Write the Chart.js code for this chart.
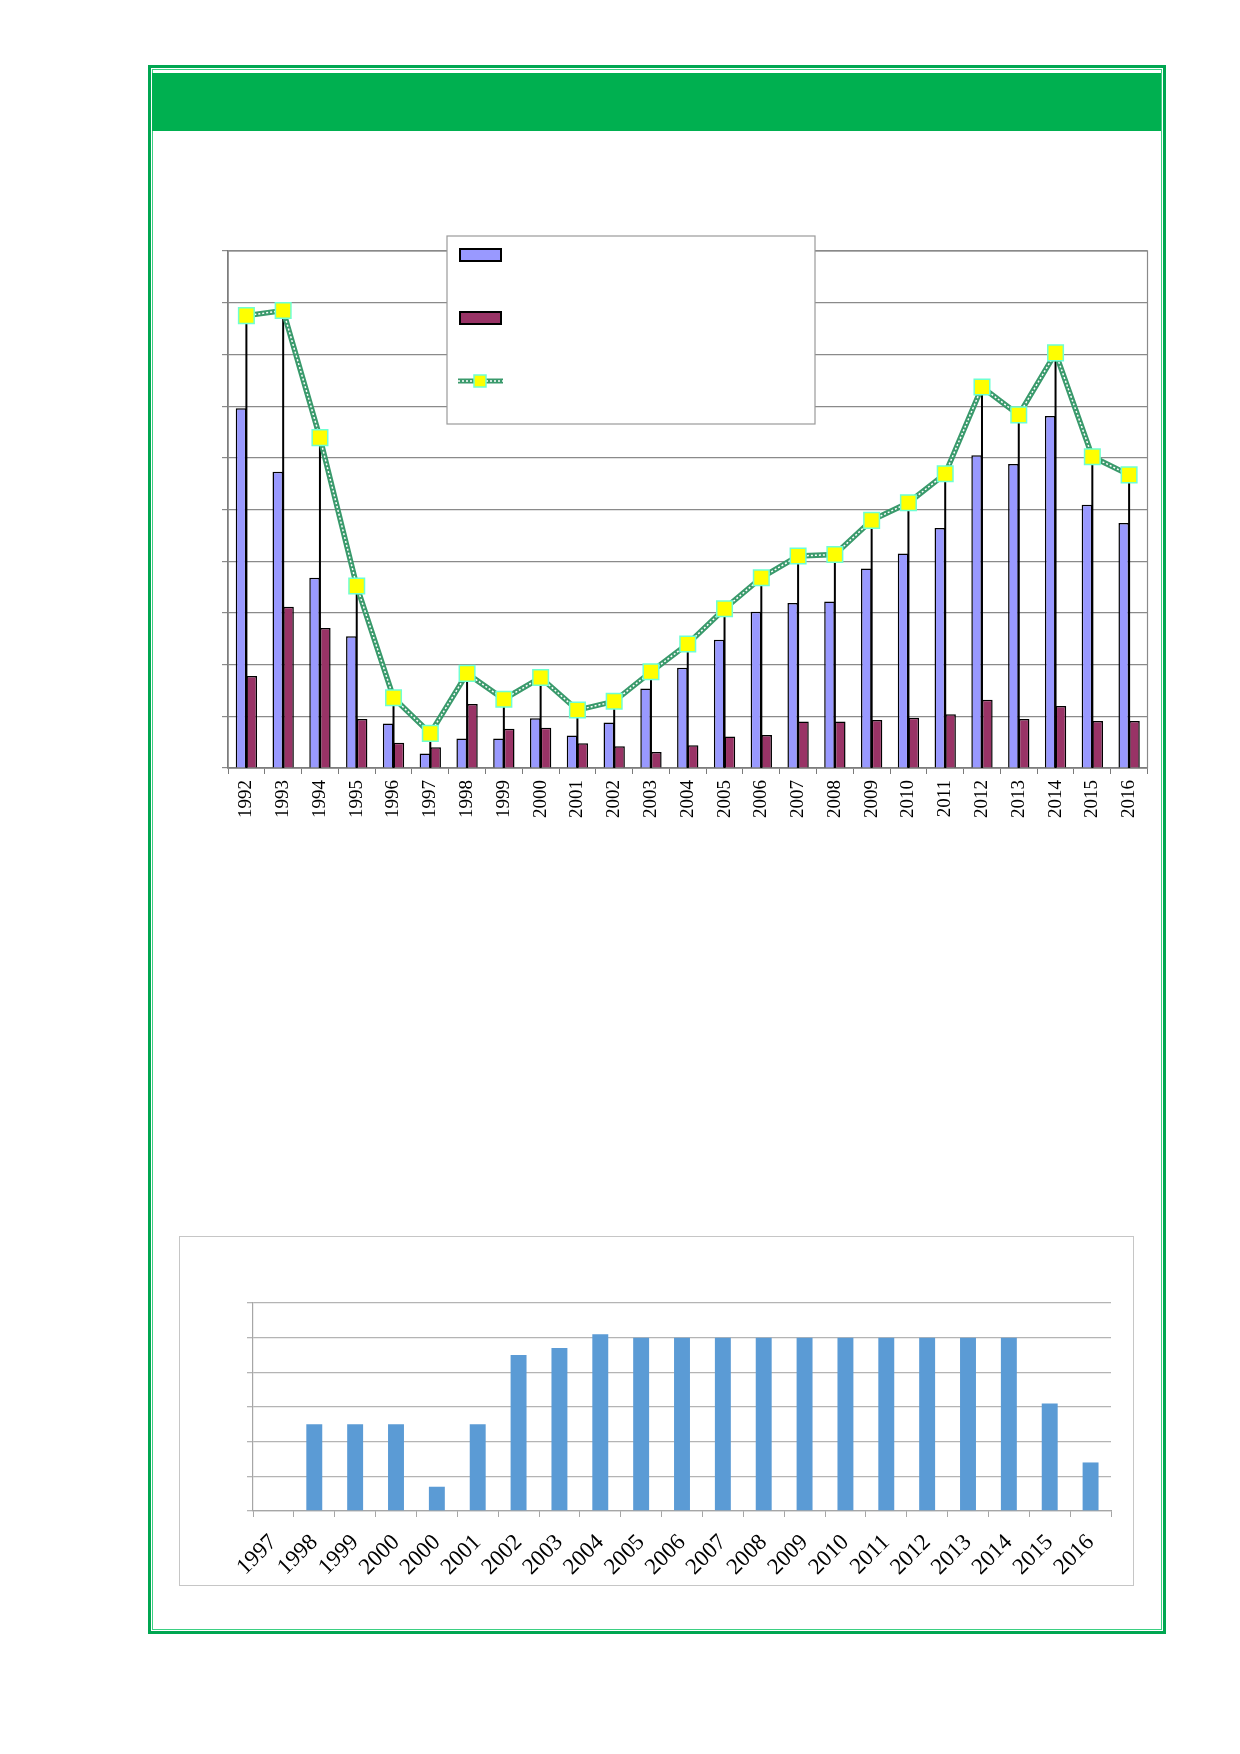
<!DOCTYPE html>
<html>
<head>
<meta charset="utf-8">
<script src="https://cdn.jsdelivr.net/npm/chart.js@4.4.0/dist/chart.umd.min.js"></script>
<style>
  body { margin: 0; width: 1240px; height: 1754px; background: #fff; position: relative; overflow: hidden; }
  #frame { position: absolute; left: 148px; top: 65px; width: 1012px; height: 1563px; border: 3px solid #00a651; }
  #frame-inner { position: absolute; left: 1px; top: 1px; right: 1px; bottom: 1px; border: 1px solid #3dd083; }
  #band { position: absolute; left: 152px; top: 73px; width: 1009px; height: 58px; background: #00b050; }
  #topChart { position: absolute; left: 190px; top: 200px; width: 970px; height: 650px; }
  #bottomBox { position: absolute; left: 179px; top: 1236px; width: 955px; height: 350px; box-sizing: border-box; border: 1px solid #c6c6c6; }
  #bottomChart { position: absolute; left: 0; top: 0; width: 953px; height: 348px; }
</style>
</head>
<body>
<div id="frame"><div id="frame-inner"></div></div>
<div id="band"></div>
<div id="topChart"><canvas id="myChart"></canvas></div>
<div id="bottomBox"><div id="bottomChart"><canvas id="myChart2"></canvas></div></div>

<script>
const years = [
  "1992", "1993", "1994", "1995", "1996", "1997", "1998", "1999", "2000",
  "2001", "2002", "2003", "2004", "2005", "2006", "2007", "2008", "2009",
  "2010", "2011", "2012", "2013", "2014", "2015", "2016",
];

const blueValues = [
  6.96, 5.73, 3.68, 2.55, 0.86, 0.28, 0.57, 0.57, 0.96, 0.63, 0.88, 1.54, 1.94,
  2.48, 3.02, 3.19, 3.22, 3.86, 4.15, 4.64, 6.05, 5.88, 6.81, 5.09, 4.74,
];

const redValues = [
  1.78, 3.12, 2.71, 0.95, 0.49, 0.4, 1.24, 0.76, 0.78, 0.48, 0.42, 0.31, 0.44,
  0.61, 0.64, 0.9, 0.9, 0.93, 0.97, 1.04, 1.32, 0.95, 1.2, 0.91, 0.91,
];

const totalValues = [
  8.75, 8.85, 6.39, 3.52, 1.36, 0.67, 1.83, 1.33, 1.75, 1.12, 1.29, 1.86, 2.4,
  3.08, 3.68, 4.1, 4.13, 4.79, 5.13, 5.69, 7.37, 6.83, 8.03, 6.02, 5.67,
];

const years2 = [
  "1997", "1998", "1999", "2000", "2000", "2001", "2002", "2003", "2004",
  "2005", "2006", "2007", "2008", "2009", "2010", "2011", "2012", "2013",
  "2014", "2015", "2016",
];

const values2 = [
  0, 2.5, 2.5, 2.5, 0.7, 2.5, 4.5, 4.7, 5.1, 5, 5, 5, 5, 5, 5, 5, 5, 5, 5,
  3.1, 1.4,
];

const BLUE = "#9999ff";
const RED = "#993366";
const LINE_GREEN = "#3a9a6c";
const MARK_YELLOW = "#ffff00";
const MARK_EDGE = "#6effd2";

// black drop lines from each point down to the axis
const dropLines = {
  id: "dropLines",
  beforeDatasetsDraw(chart) {
    const { ctx, chartArea, scales: { y } } = chart;
    ctx.save();
    // plot area border (top and right)
    ctx.strokeStyle = "#8a8a8a";
    ctx.lineWidth = 1.2;
    ctx.strokeRect(chartArea.left, chartArea.top, chartArea.width, chartArea.height);
    ctx.strokeStyle = "#000";
    ctx.lineWidth = 2;
    chart.getDatasetMeta(4).data.forEach((pt) => {
      ctx.beginPath();
      ctx.moveTo(pt.x, pt.y);
      ctx.lineTo(pt.x, y.getPixelForValue(0));
      ctx.stroke();
    });
    ctx.restore();
  },
};

// legend box (labels are blank in the original)
const legendBox = {
  id: "legendBox",
  afterDraw(chart) {
    const { ctx } = chart;
    ctx.save();
    ctx.fillStyle = "#fff";
    ctx.fillRect(257, 36, 368, 188);
    ctx.strokeStyle = "#9a9a9a";
    ctx.lineWidth = 1.2;
    ctx.strokeRect(257, 36, 368, 188);

    ctx.lineWidth = 2;
    ctx.strokeStyle = "#000";
    ctx.fillStyle = BLUE;
    ctx.fillRect(270, 49, 41, 12);
    ctx.strokeRect(270, 49, 41, 12);
    ctx.fillStyle = RED;
    ctx.fillRect(270, 112, 41, 12);
    ctx.strokeRect(270, 112, 41, 12);

    ctx.strokeStyle = LINE_GREEN;
    ctx.lineWidth = 5;
    ctx.beginPath();
    ctx.moveTo(268, 181);
    ctx.lineTo(313, 181);
    ctx.stroke();
    ctx.strokeStyle = "#fff";
    ctx.lineWidth = 1.5;
    ctx.setLineDash([2, 2]);
    ctx.beginPath();
    ctx.moveTo(268, 181);
    ctx.lineTo(313, 181);
    ctx.stroke();
    ctx.setLineDash([]);
    ctx.fillStyle = MARK_YELLOW;
    ctx.strokeStyle = MARK_EDGE;
    ctx.lineWidth = 1.5;
    ctx.fillRect(284, 175, 12, 12);
    ctx.strokeRect(284, 175, 12, 12);
    ctx.restore();
  },
};

const config = {
  type: "bar",
  data: {
    labels: years,
    datasets: [
      {
        label: "blue",
        data: blueValues,
        backgroundColor: BLUE,
        borderColor: "#000",
        borderWidth: 1.5,
        barPercentage: 1,
        categoryPercentage: 0.58,
        order: 10,
      },
      {
        label: "red",
        data: redValues,
        backgroundColor: RED,
        borderColor: "#000",
        borderWidth: 1.5,
        barPercentage: 1,
        categoryPercentage: 0.58,
        order: 11,
      },
      {
        type: "line",
        label: "total",
        data: totalValues,
        borderColor: LINE_GREEN,
        borderWidth: 5.5,
        pointRadius: 0,
        order: 3,
      },
      {
        type: "line",
        label: "total-dots",
        data: totalValues,
        borderColor: "#ffffff",
        borderWidth: 1.5,
        borderDash: [2, 2],
        pointRadius: 0,
        order: 2,
      },
      {
        type: "line",
        label: "total-marks",
        data: totalValues,
        showLine: false,
        pointStyle: "rect",
        pointRadius: 11,
        pointBackgroundColor: MARK_YELLOW,
        pointBorderColor: MARK_EDGE,
        pointBorderWidth: 1.5,
        order: 1,
      },
    ],
  },
  options: {
    responsive: true,
    maintainAspectRatio: false,
    animation: false,
    layout: { padding: { top: 51, right: 12, left: 0, bottom: 0 } },
    plugins: {
      legend: { display: false },
      tooltip: { enabled: false },
    },
    scales: {
      x: {
        grid: {
          offset: true,
          drawOnChartArea: false,
          tickLength: 6,
          color: "#7a7a7a",
        },
        border: { color: "#6a6a6a", width: 1.5 },
        ticks: {
          autoSkip: false,
          minRotation: 90,
          maxRotation: 90,
          padding: 6,
          color: "#000",
          font: { family: "Liberation Serif", size: 19 },
        },
        afterFit(scale) {
          scale.height = 82;
        },
      },
      y: {
        min: 0,
        max: 10,
        ticks: { stepSize: 1, display: false },
        grid: { color: "#8a8a8a", lineWidth: 1.2, tickLength: 6 },
        border: { color: "#6a6a6a", width: 1.5 },
        afterFit(scale) {
          scale.width = 38;
        },
      },
    },
  },
  plugins: [dropLines, legendBox],
};

const myChart = new Chart(document.getElementById("myChart"), config);

// bottom chart
const config2 = {
  type: "bar",
  data: {
    labels: years2,
    datasets: [
      {
        data: values2,
        backgroundColor: "#5b9bd5",
        borderWidth: 0,
        barPercentage: 0.39,
        categoryPercentage: 1,
      },
    ],
  },
  options: {
    responsive: true,
    maintainAspectRatio: false,
    animation: false,
    layout: { padding: { top: 66, right: 22, left: 0, bottom: 0 } },
    plugins: {
      legend: { display: false },
      tooltip: { enabled: false },
    },
    scales: {
      x: {
        grid: {
          offset: true,
          drawOnChartArea: false,
          tickLength: 6,
          color: "#a6a6a6",
        },
        border: { color: "#a6a6a6", width: 1.2 },
        ticks: {
          autoSkip: false,
          minRotation: 45,
          maxRotation: 45,
          padding: 12,
          color: "#000",
          font: { family: "Liberation Serif", size: 23 },
        },
        afterFit(scale) {
          scale.height = 74;
        },
      },
      y: {
        min: 0,
        max: 6,
        ticks: { stepSize: 1, display: false },
        grid: { color: "#b4b4b4", lineWidth: 1.3, tickLength: 6 },
        border: { color: "#a6a6a6", width: 1.2 },
        afterFit(scale) {
          scale.width = 73;
        },
      },
    },
  },
};

const myChart2 = new Chart(document.getElementById("myChart2"), config2);
</script>
</body>
</html>
